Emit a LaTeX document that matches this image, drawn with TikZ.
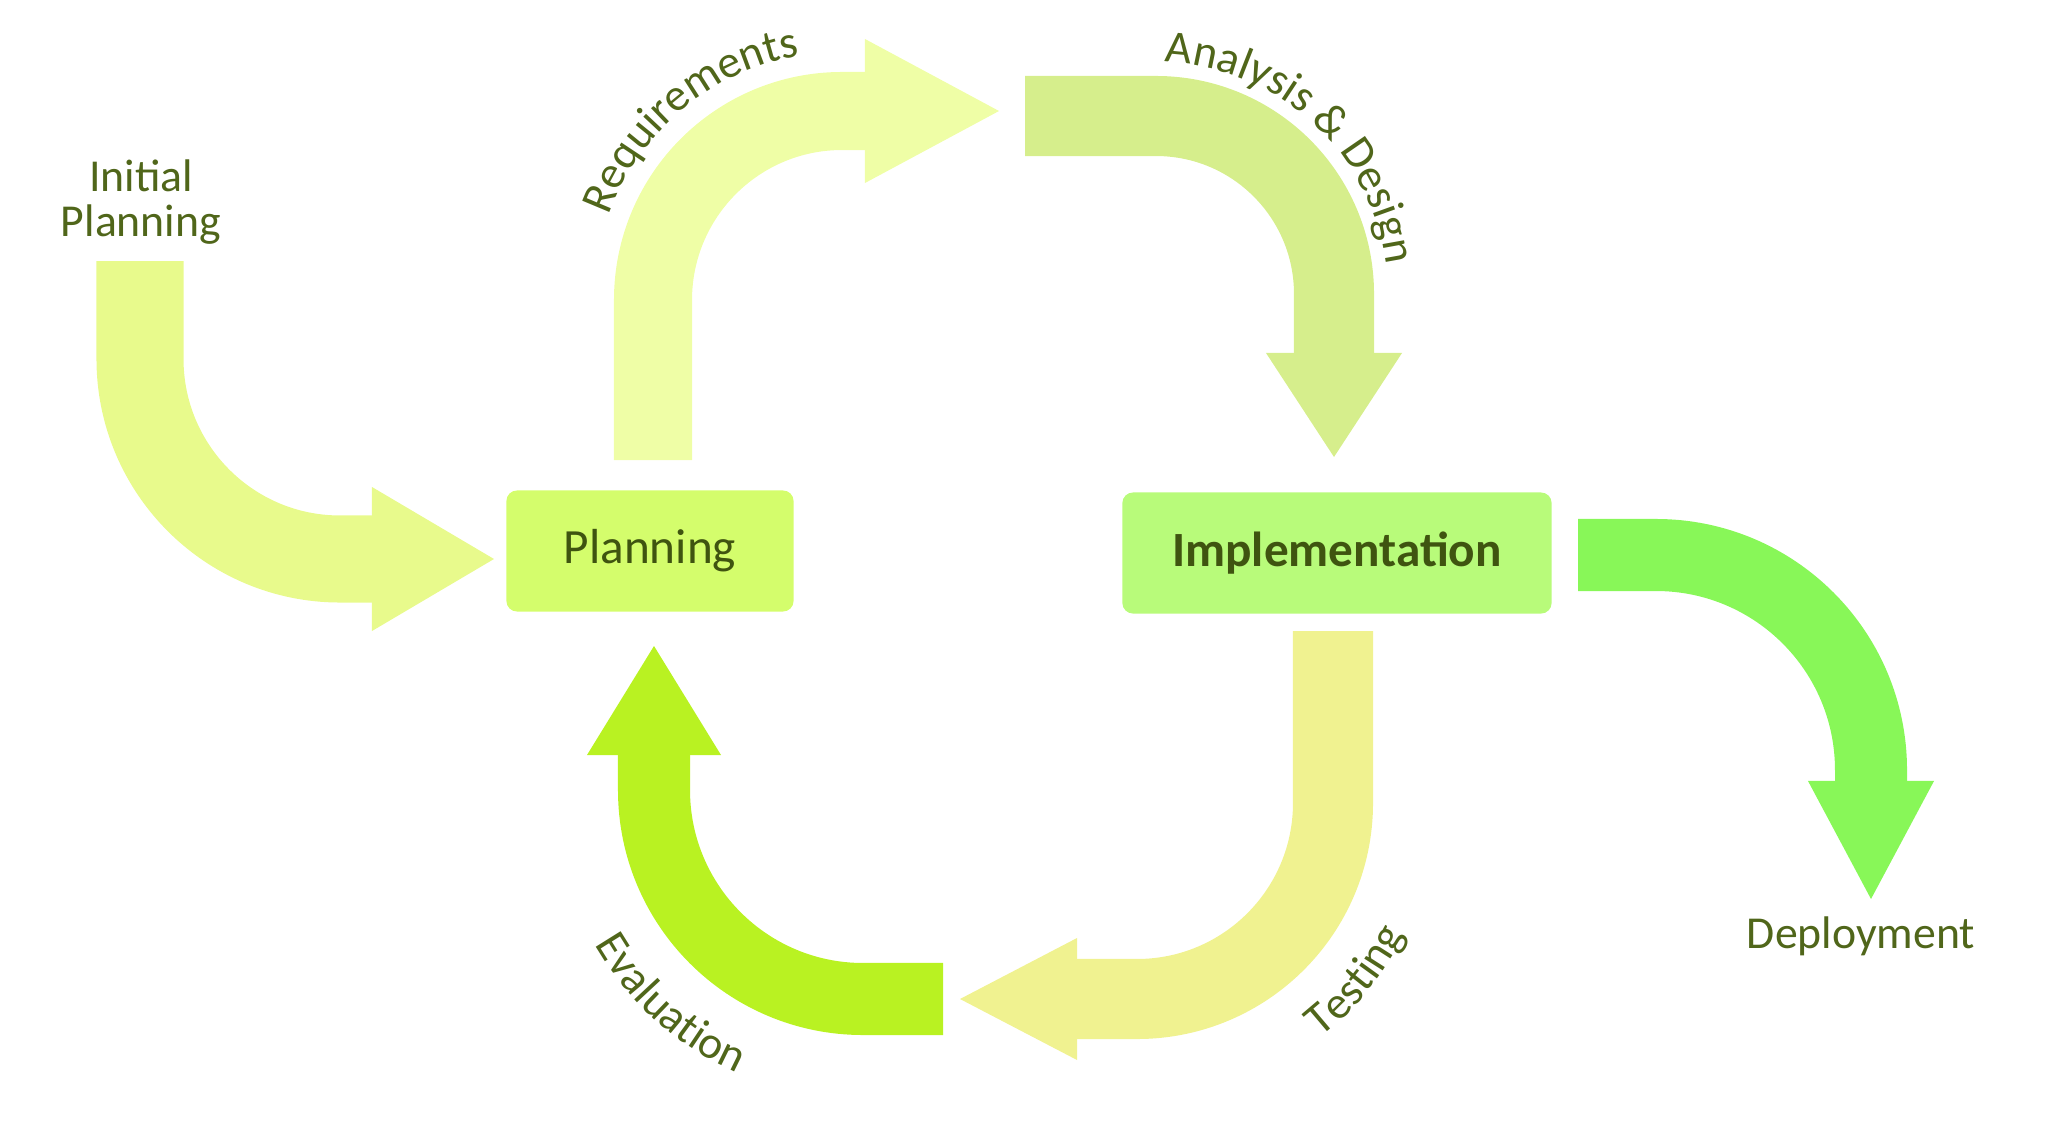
\documentclass[tikz,border=0pt]{standalone}
\usepackage{fontspec}
\setmainfont{Carlito}
\usetikzlibrary{arrows.meta,decorations.text}

\definecolor{ipcol}{HTML}{E8FA8C}
\definecolor{rqcol}{HTML}{EFFEA6}
\definecolor{adcol}{HTML}{D6EE8C}
\definecolor{dpcol}{HTML}{88F758}
\definecolor{tscol}{HTML}{F0F290}
\definecolor{evcol}{HTML}{B9F222}
\definecolor{planfill}{HTML}{D4FD6C}
\definecolor{implfill}{HTML}{B8FB7A}
\definecolor{boxtext}{HTML}{3F5410}
\definecolor{lbltext}{HTML}{50661A}

\newcommand{\lblfont}{\fontsize{13}{13}\selectfont}

\begin{document}
\begin{tikzpicture}[
    x=0.01cm, y=0.01cm,
    font=\lblfont,
    flow/.style n args={4}{draw=#1, line width=#2,
                           -{Triangle[length=#3, width=#4, line width=0pt]}},
    stagebox/.style={rectangle, rounded corners=3pt, minimum height=1.21cm,
                     text=boxtext},
    lbl/.style={text=lbltext, align=center},
    curvelbl/.style={decorate, decoration={text along path, text align=center,
                     text color=lbltext, text={|\lblfont|#1}}}
  ]
  \useasboundingbox (0,0) rectangle (2048,1123);

  % stage boxes
  \node[stagebox, fill=planfill, minimum width=2.87cm,
        font=\fontsize{14}{14}\selectfont] (plan) at (650,572) {Planning};
  \node[stagebox, fill=implfill, minimum width=4.29cm,
        font=\fontsize{14}{14}\selectfont\bfseries] (impl) at (1337,570) {Implementation};

  % curved flow arrows
  \draw[flow={ipcol}{0.87cm}{1.22cm}{1.44cm}] (140,862) -- (140,764)
       arc[start angle=180, end angle=270, radius=200] -- (494,564);
  \draw[flow={rqcol}{0.78cm}{1.34cm}{1.44cm}] (653,663) -- (653,823)
       arc[start angle=180, end angle=90, radius=189] -- (999,1012);
  \draw[flow={adcol}{0.80cm}{1.04cm}{1.36cm}] (1025,1007) -- (1156,1007)
       arc[start angle=90, end angle=0, radius=178] -- (1334,666);
  \draw[flow={dpcol}{0.72cm}{1.18cm}{1.26cm}] (1578,568) -- (1656,568)
       arc[start angle=90, end angle=0, radius=215] -- (1871,224);
  \draw[flow={tscol}{0.80cm}{1.17cm}{1.22cm}] (1333,492) -- (1333,320)
       arc[start angle=0, end angle=-90, radius=196] -- (960,124);
  \draw[flow={evcol}{0.72cm}{1.09cm}{1.34cm}] (943,124) -- (863,124)
       arc[start angle=270, end angle=180, radius=209] -- (654,477);

  % labels
  \node[lbl] (initlbl) at (141,921) {Initial\\Planning};
  \node[lbl] (deplbl) at (1861,187) {Deployment};
  \path[curvelbl={Requirements}] (842,823) ++(175:248)
       arc[start angle=175, end angle=85, radius=248];
  \path[curvelbl={Analysis {\&} Design}] (1156,829) ++(100:232)
       arc[start angle=100, end angle=-5, radius=232];
  \path[curvelbl={Evaluation}] (863,333) ++(195:310)
       arc[start angle=195, end angle=261, radius=310];
  \path[curvelbl={Testing}] (1137,320) ++(298:298)
       arc[start angle=298, end angle=344, radius=298];
\end{tikzpicture}
\end{document}
